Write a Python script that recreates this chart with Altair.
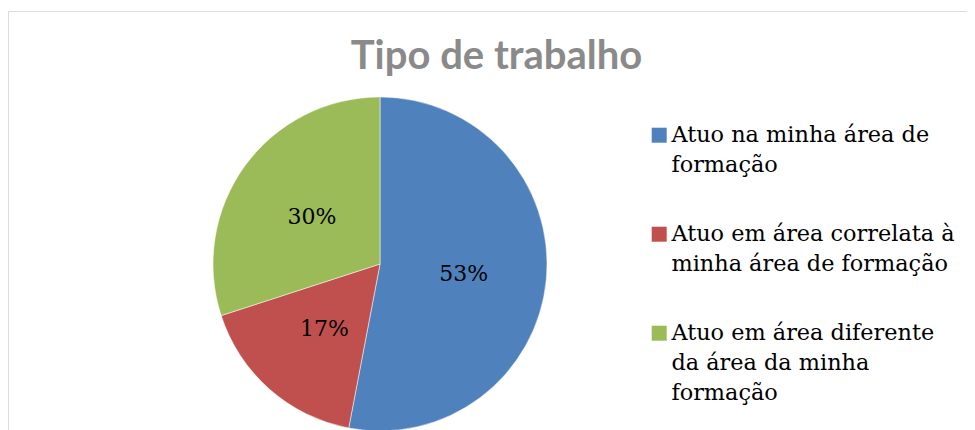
import altair as alt
import pandas as pd

categories = [
    "Atuo na minha área de|formação",
    "Atuo em área correlata à|minha área de formação",
    "Atuo em área diferente|da área da minha|formação",
]
values = [53, 17, 30]
pct_labels = ["53%", "17%", "30%"]
colors = ["#4f81bd", "#c0504d", "#9bbb59"]
order = [0, 1, 2]

W, H = 959, 430

df = pd.DataFrame({"cat": categories, "value": values, "label": pct_labels, "order": order})

base = alt.Chart(df).encode(
    theta=alt.Theta("value:Q", stack=True),
    order=alt.Order("order:Q"),
)

pie = base.mark_arc(outerRadius=167, stroke="#ffffff", strokeWidth=0.5).encode(
    x=alt.value(372),
    y=alt.value(253),
    color=alt.Color(
        "cat:N",
        scale=alt.Scale(domain=categories, range=colors),
        legend=alt.Legend(
            title=None,
            orient="none",
            legendX=640,
            legendY=113,
            symbolType="square",
            symbolSize=225,
            symbolStrokeWidth=0,
            labelFont="DejaVu Serif",
            labelFontSize=22.4,
            labelColor="#000000",
            labelLimit=400,
            labelOffset=1,
            labelBaseline="middle",
            rowPadding=46,
            padding=0,
            labelExpr="split(datum.label, '|')",
        ),
    ),
)
text = base.mark_text(radius=84, font="DejaVu Serif", fontSize=22, dy=2).encode(
    text="label:N", x=alt.value(372), y=alt.value(253), color=alt.value("#000000")
)

chart = (
    alt.layer(pie, text)
    .properties(
        width=W,
        height=H,
        padding={"left": 0, "top": 3, "right": 0, "bottom": 0},
        autosize=alt.AutoSizeParams(type="none"),
        title=alt.TitleParams(
            "Tipo de trabalho",
            font="Lato",
            fontSize=40,
            fontWeight="bold",
            color="#8a8a8a",
            anchor="middle",
            frame="group",
            baseline="alphabetic",
            offset=-98,
            dx=9,
        ),
    )
    .configure_view(stroke="#d9d9d9", strokeWidth=1, strokeDash=[W, H + W, H])
    .configure(style={"guide-label": {"lineHeight": 30}})
)

chart.save("out.html", embed_options={"renderer": "svg", "actions": False})
